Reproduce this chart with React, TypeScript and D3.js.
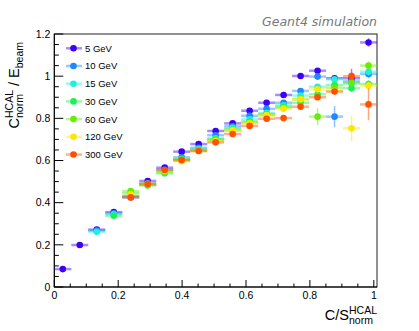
import React, { useEffect, useRef } from "react";
import * as d3 from "d3";

const W = 419;
const H = 331;

const binCenters = [0.0266, 0.0797, 0.1329, 0.1861, 0.2392, 0.2924, 0.3456, 0.3987, 0.4519, 0.505, 0.5582, 0.6114, 0.6645, 0.7177, 0.7708, 0.824, 0.8772, 0.9303, 0.9835];
const binHalfWidth = 0.0266;

const seriesNames = ["5 GeV", "10 GeV", "15 GeV", "30 GeV", "60 GeV", "120 GeV", "300 GeV"];
const seriesColors = ["#3c00f5", "#1e88ff", "#22eedd", "#1ef05a", "#66ee00", "#ffe600", "#ff5000"];

const v5 = [0.085, 0.199, 0.272, 0.355, 0.43, 0.503, 0.566, 0.642, 0.678, 0.74, 0.776, 0.836, 0.874, 0.911, 1.001, 1.026, 0.99, 0.99, 1.16];
const v10 = [null, null, 0.268, 0.35, 0.425, 0.492, 0.556, 0.615, 0.66, 0.72, 0.762, 0.812, 0.845, 0.874, 0.93, 0.998, 0.808, 0.975, 1.01];
const v15 = [null, null, 0.262, 0.345, 0.428, 0.486, 0.55, 0.607, 0.655, 0.705, 0.755, 0.795, 0.825, 0.862, 0.908, 0.95, 0.985, 0.965, 1.021];
const v30 = [null, null, null, 0.338, 0.445, 0.482, 0.539, 0.6, 0.648, 0.7, 0.748, 0.784, 0.82, 0.855, 0.874, 0.914, 0.958, 0.943, 0.963];
const v60 = [null, null, null, null, 0.455, 0.485, 0.545, 0.605, 0.65, 0.698, 0.742, 0.78, 0.815, 0.85, 0.89, 0.808, 0.945, 0.969, 1.05];
const v120 = [null, null, null, null, 0.44, 0.49, 0.55, 0.597, 0.645, 0.692, 0.745, 0.777, 0.815, 0.846, 0.89, 0.938, 0.93, 0.753, 0.955];
const v300 = [null, null, null, null, 0.425, 0.488, 0.555, 0.602, 0.645, 0.686, 0.726, 0.764, 0.798, 0.801, 0.855, 0.9, 0.927, 1.0, 0.866];

const e5 = [0.004, 0.004, 0.004, 0.004, 0.004, 0.004, 0.004, 0.004, 0.004, 0.005, 0.005, 0.006, 0.006, 0.008, 0.01, 0.012, 0.015, 0.045, 0.02];
const e10 = [0, 0, 0.004, 0.004, 0.004, 0.004, 0.004, 0.004, 0.004, 0.005, 0.005, 0.006, 0.006, 0.008, 0.01, 0.012, 0.05, 0.02, 0.02];
const e15 = [0, 0, 0.004, 0.004, 0.004, 0.004, 0.004, 0.004, 0.004, 0.005, 0.005, 0.006, 0.006, 0.008, 0.01, 0.012, 0.015, 0.02, 0.02];
const e30 = [0, 0, 0, 0.004, 0.004, 0.004, 0.004, 0.004, 0.004, 0.005, 0.005, 0.006, 0.006, 0.008, 0.01, 0.012, 0.015, 0.02, 0.02];
const e60 = [0, 0, 0, 0, 0.004, 0.004, 0.004, 0.004, 0.004, 0.005, 0.005, 0.006, 0.006, 0.008, 0.01, 0.04, 0.015, 0.02, 0.02];
const e120 = [0, 0, 0, 0, 0.004, 0.004, 0.004, 0.004, 0.004, 0.005, 0.005, 0.006, 0.006, 0.008, 0.01, 0.012, 0.015, 0.06, 0.02];
const e300 = [0, 0, 0, 0, 0.004, 0.004, 0.004, 0.004, 0.004, 0.005, 0.005, 0.006, 0.006, 0.008, 0.01, 0.012, 0.015, 0.02, 0.075];

const seriesValues = [v5, v10, v15, v30, v60, v120, v300];
const seriesErrors = [e5, e10, e15, e30, e60, e120, e300];

const xTickLabels = ["0", "0.2", "0.4", "0.6", "0.8", "1"];
const yTickLabels = ["0", "0.2", "0.4", "0.6", "0.8", "1", "1.2"];

const FONT = "'Liberation Sans', Arial, Helvetica, sans-serif";

type Piece = { text?: string; size?: number; stack?: { text: string; dy: number }[]; gap?: number };

function drawLatex(g: any, pieces: Piece[], mainSize: number, subSize: number, anchorEnd: boolean) {
  const inner = g.append("g");
  let x = 0;
  pieces.forEach((p) => {
    if (p.gap) {
      x += p.gap;
      return;
    }
    if (p.stack) {
      let maxW = 0;
      p.stack.forEach((s) => {
        const t = inner
          .append("text")
          .attr("x", x)
          .attr("y", s.dy)
          .attr("font-family", FONT)
          .attr("font-size", subSize)
          .attr("fill", "#000")
          .text(s.text);
        const w = (t.node() as SVGTextElement).getComputedTextLength();
        maxW = Math.max(maxW, w);
      });
      x += maxW;
    } else {
      const t = inner
        .append("text")
        .attr("x", x)
        .attr("y", 0)
        .attr("font-family", FONT)
        .attr("font-size", p.size || mainSize)
        .attr("fill", "#000")
        .text(p.text || "");
      x += (t.node() as SVGTextElement).getComputedTextLength();
    }
  });
  if (anchorEnd) inner.attr("transform", `translate(${-x},0)`);
}

export default function App() {
  const ref = useRef<SVGSVGElement | null>(null);

  useEffect(() => {
    const svg = d3.select(ref.current);
    svg.selectAll("*").remove();

    const left = 54.3;
    const right = 377;
    const top = 34;
    const bottom = 287;

    const x = d3.scaleLinear().domain([0, 1.01]).range([left, right]);
    const y = d3.scaleLinear().domain([0, 1.2]).range([bottom, top]);

    svg.append("rect").attr("width", W).attr("height", H).attr("fill", "#fff");

    // frame
    svg
      .append("rect")
      .attr("x", left)
      .attr("y", top)
      .attr("width", right - left)
      .attr("height", bottom - top)
      .attr("fill", "none")
      .attr("stroke", "#222")
      .attr("stroke-width", 1);

    // x ticks (inside)
    const xMinor = d3.range(0, 1.0001, 0.05);
    const xMajorVals = xTickLabels.map((s) => +s);
    const axisG = svg.append("g").attr("stroke", "#000").attr("stroke-width", 1);
    xMinor.forEach((v) => {
      const isMajor = xMajorVals.some((m) => Math.abs(m - v) < 1e-6);
      axisG
        .append("line")
        .attr("x1", x(v))
        .attr("x2", x(v))
        .attr("y1", bottom)
        .attr("y2", bottom - (isMajor ? 7 : 3.5));
    });
    const yMinor = d3.range(0, 1.2001, 0.05);
    const yMajorVals = yTickLabels.map((s) => +s);
    yMinor.forEach((v) => {
      const isMajor = yMajorVals.some((m) => Math.abs(m - v) < 1e-6);
      axisG
        .append("line")
        .attr("x1", left)
        .attr("x2", left + (isMajor ? 9 : 4.5))
        .attr("y1", y(v))
        .attr("y2", y(v));
    });
    svg
      .append("line")
      .attr("x1", left)
      .attr("x2", right)
      .attr("y1", bottom)
      .attr("y2", bottom)
      .attr("stroke", "#000");
    svg
      .append("line")
      .attr("x1", left)
      .attr("x2", left)
      .attr("y1", top)
      .attr("y2", bottom)
      .attr("stroke", "#000");

    // tick labels
    xTickLabels.forEach((s) => {
      svg
        .append("text")
        .attr("x", x(+s))
        .attr("y", bottom + 12)
        .attr("text-anchor", "middle")
        .attr("font-family", FONT)
        .attr("font-size", 10.5)
        .attr("fill", "#000")
        .text(s);
    });
    yTickLabels.forEach((s) => {
      svg
        .append("text")
        .attr("x", left - 4)
        .attr("y", y(+s) + (s === "0" ? 4 : 3.7))
        .attr("text-anchor", "end")
        .attr("font-family", FONT)
        .attr("font-size", 10.5)
        .attr("fill", "#000")
        .text(s);
    });

    // data
    const dataG = svg.append("g");
    seriesValues.forEach((vals, si) => {
      const col = seriesColors[si];
      const g = dataG.append("g");
      vals.forEach((v, i) => {
        if (v === null || v === undefined) return;
        const cx = x(binCenters[i]);
        const cy = y(v);
        const err = seriesErrors[si][i] || 0;
        g.append("line")
          .attr("x1", x(binCenters[i] - binHalfWidth))
          .attr("x2", x(binCenters[i] + binHalfWidth))
          .attr("y1", cy)
          .attr("y2", cy)
          .attr("stroke", col)
          .attr("stroke-opacity", 0.45)
          .attr("stroke-width", 2.5);
        if (err > 0) {
          g.append("line")
            .attr("x1", cx)
            .attr("x2", cx)
            .attr("y1", y(v - err))
            .attr("y2", y(v + err))
            .attr("stroke", col)
            .attr("stroke-opacity", 0.5)
            .attr("stroke-width", 1.5);
        }
        g.append("circle").attr("cx", cx).attr("cy", cy).attr("r", 3.3).attr("fill", col);
      });
    });

    // legend
    const legG = svg.append("g");
    seriesNames.forEach((name, k) => {
      const ly = 48.3 + k * 17.7;
      legG
        .append("line")
        .attr("x1", 66)
        .attr("x2", 82)
        .attr("y1", ly)
        .attr("y2", ly)
        .attr("stroke", seriesColors[k])
        .attr("stroke-opacity", 0.45)
        .attr("stroke-width", 2.5);
      legG.append("circle").attr("cx", 73.5).attr("cy", ly).attr("r", 3.3).attr("fill", seriesColors[k]);
      legG
        .append("text")
        .attr("x", 85)
        .attr("y", ly + 3.4)
        .attr("font-family", FONT)
        .attr("font-size", 9.5)
        .attr("fill", "#000")
        .text(name);
    });

    // Geant4 simulation
    svg
      .append("text")
      .attr("x", 377)
      .attr("y", 26)
      .attr("text-anchor", "end")
      .attr("font-family", "'DejaVu Sans', sans-serif")
      .attr("font-style", "italic")
      .attr("font-size", 12.5)
      .attr("fill", "#777")
      .text("Geant4 simulation");

    // x title
    const xt = svg.append("g").attr("transform", `translate(377,320)`);
    drawLatex(
      xt,
      [
        { text: "C/S" },
        { stack: [{ text: "HCAL", dy: -6.5 }, { text: "norm", dy: 4 }] },
      ],
      14.5,
      10.5,
      true
    );

    // y title
    const yt = svg.append("g").attr("transform", `translate(19,42) rotate(-90)`);
    drawLatex(
      yt,
      [
        { text: "C" },
        { stack: [{ text: "HCAL", dy: -6.5 }, { text: "norm", dy: 4 }] },
        { gap: 4 },
        { text: "/" },
        { gap: 4 },
        { text: "E" },
        { stack: [{ text: "beam", dy: 4 }] },
      ],
      14.5,
      10.5,
      true
    );
  }, []);

  return (
    <svg
      ref={ref}
      width={W}
      height={H}
      style={{ position: "absolute", left: 0, top: 0, display: "block" }}
    />
  );
}
